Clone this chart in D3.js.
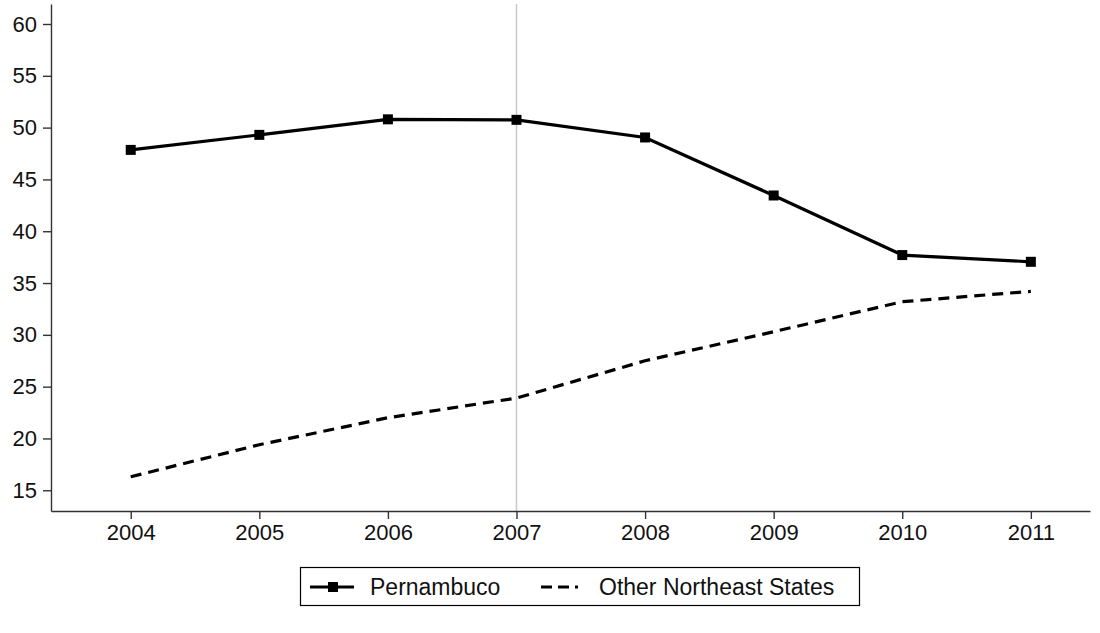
<!DOCTYPE html>
<html>
<head>
<meta charset="utf-8">
<script src="https://cdn.jsdelivr.net/npm/d3@7"></script>
<style>
  body { margin: 0; background: #fff; }
  svg { display: block; font-family: "Liberation Sans", Arial, sans-serif; }
</style>
</head>
<body>
<svg id="chart" width="1100" height="633"></svg>
<script>
const years = [2004, 2005, 2006, 2007, 2008, 2009, 2010, 2011];
const pernambuco = [47.85, 49.3, 50.8, 50.75, 49.05, 43.45, 37.7, 37.05];
const otherNE = [16.3, 19.4, 22.0, 23.9, 27.5, 30.3, 33.2, 34.2];
const yTicks = [15, 20, 25, 30, 35, 40, 45, 50, 55, 60];
const seriesNames = ["Pernambuco", "Other Northeast States"];
const refYear = 2007;

const svg = d3.select("#chart");
const x = d3.scaleLinear().domain([2003.38, 2011.46]).range([51, 1090]);
const y = d3.scaleLinear().domain([13.0, 61.93]).range([511, 4]);

// reference line
svg.append("line")
  .attr("x1", x(refYear)).attr("x2", x(refYear))
  .attr("y1", y(61.93)).attr("y2", y(13.0))
  .attr("stroke", "#c8c8c8").attr("stroke-width", 1.5);

// axes
const yAxis = svg.append("g").attr("transform", "translate(51,0)")
  .call(d3.axisLeft(y).tickValues(yTicks).tickSize(8).tickSizeOuter(0).tickPadding(6).tickFormat(d3.format("d")));
const xAxis = svg.append("g").attr("transform", "translate(0,511)")
  .call(d3.axisBottom(x).tickValues(years).tickSize(8).tickSizeOuter(0).tickPadding(5).tickFormat(d3.format("d")));
[yAxis, xAxis].forEach(g => {
  g.select(".domain").attr("stroke", "#333").attr("stroke-width", 1.4);
  g.selectAll(".tick line").attr("stroke", "#333").attr("stroke-width", 1.4);
  g.selectAll(".tick text").attr("font-size", 22).attr("fill", "#111")
    .attr("font-family", "Liberation Sans, Arial, sans-serif");
});

const line = d3.line().x((d, i) => x(years[i])).y(d => y(d));

svg.append("path").datum(otherNE)
  .attr("d", line).attr("fill", "none")
  .attr("stroke", "#000").attr("stroke-width", 3.2)
  .attr("stroke-dasharray", "11,7");

svg.append("path").datum(pernambuco)
  .attr("d", line).attr("fill", "none")
  .attr("stroke", "#000").attr("stroke-width", 3.2);

const ms = 10;
svg.selectAll("rect.mk").data(pernambuco).enter().append("rect")
  .attr("class", "mk")
  .attr("x", (d, i) => x(years[i]) - ms / 2)
  .attr("y", d => y(d) - ms / 2)
  .attr("width", ms).attr("height", ms)
  .attr("fill", "#000");

// legend
const lg = svg.append("g");
lg.append("rect").attr("x", 300.5).attr("y", 567.5).attr("width", 559).attr("height", 38)
  .attr("fill", "#fff").attr("stroke", "#000").attr("stroke-width", 1.2);
const ly = 587;
lg.append("line").attr("x1", 310).attr("x2", 354).attr("y1", ly).attr("y2", ly)
  .attr("stroke", "#000").attr("stroke-width", 3.2);
lg.append("rect").attr("x", 333 - ms / 2).attr("y", ly - ms / 2).attr("width", ms).attr("height", ms).attr("fill", "#000");
lg.append("text").attr("x", 370).attr("y", ly + 8).attr("font-size", 23).attr("fill", "#111").text(seriesNames[0]);
lg.append("line").attr("x1", 541).attr("x2", 586).attr("y1", ly).attr("y2", ly)
  .attr("stroke", "#000").attr("stroke-width", 3.2).attr("stroke-dasharray", "11,6,11,6,3");
lg.append("text").attr("x", 599).attr("y", ly + 8).attr("font-size", 23).attr("fill", "#111").text(seriesNames[1]);
</script>
</body>
</html>
